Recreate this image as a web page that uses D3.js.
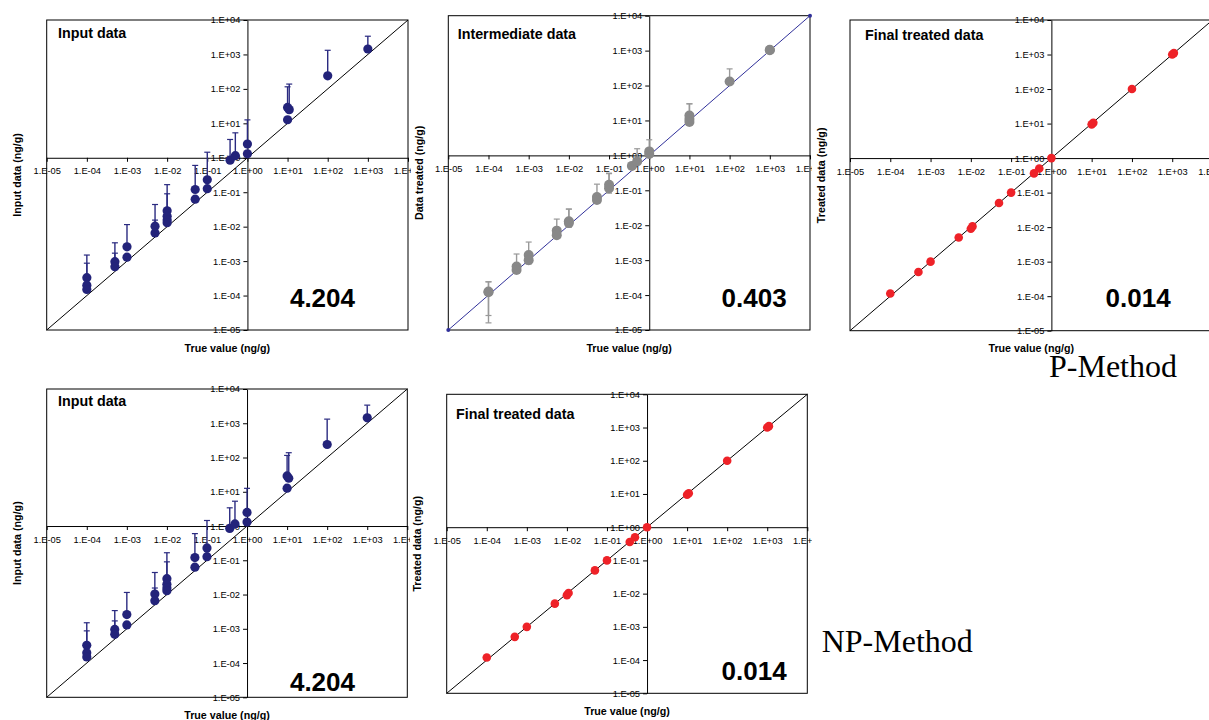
<!DOCTYPE html>
<html>
<head>
<meta charset="utf-8">
<script src="https://cdn.jsdelivr.net/npm/d3@7"></script>
<style>
  body { margin: 0; background: #fff; }
  svg { display: block; font-family: "Liberation Sans", Arial, sans-serif; }
  .axis text { font-size: 9.3px; fill: #000; }
  .axis path, .axis line { stroke: #000; stroke-width: 1; }
</style>
</head>
<body>
<svg id="chart" width="1209" height="720"></svg>
<script>

// tick values / labels shared by every panel
var tickVals = [1e-5, 1e-4, 1e-3, 1e-2, 1e-1, 1, 10, 100, 1000, 1e4];
var tickLabels = ["1.E-05", "1.E-04", "1.E-03", "1.E-02", "1.E-01", "1.E+00", "1.E+01", "1.E+02", "1.E+03", "1.E+04"];

// input data (navy, upper error bars)
var inputTrue     = [1e-4, 1e-4, 1e-4, 5e-4, 5e-4, 1e-3, 1e-3, 5e-3, 5e-3, 1e-2, 1e-2, 1e-2, 1e-2, 5e-2, 5e-2, 1e-1, 1e-1, 0.37, 0.5, 1, 1, 10, 11, 10, 100, 1000];
var inputMeasured = [3.3e-4, 2.0e-4, 1.5e-4, 9.6e-4, 6.9e-4, 2.6e-3, 1.3e-3, 1.03e-2, 6.6e-3, 2.9e-2, 2.0e-2, 1.55e-2, 1.3e-2, 0.12, 0.063, 0.23, 0.127, 0.85, 1.15, 2.5, 1.3, 29, 25, 12.7, 240, 1440];
var inputUpper    = [1.5e-3, 8.7e-4, null, 3.4e-3, 1.7e-3, 1.15e-2, null, 4.4e-2, 1.55e-2, 0.166, 0.09, null, null, 0.6, null, 1.45, null, 3.4, 5.3, 12.6, null, 115, 138, null, 1320, 3380];

// intermediate data (grey, two-sided error bars)
var interTrue  = [1e-4, 1e-4, 5e-4, 5e-4, 1e-3, 1e-3, 5e-3, 5e-3, 1e-2, 1e-2, 5e-2, 5e-2, 1e-1, 1e-1, 0.37, 0.5, 1, 1, 10, 10, 10, 100, 1000, 1000];
var interValue = [1.26e-4, 1.2e-4, 6.6e-4, 5.2e-4, 1.4e-3, 1.0e-3, 7e-3, 5.2e-3, 1.3e-2, 1.15e-2, 0.064, 0.053, 0.145, 0.115, 0.5, 0.67, 1.3, 1.1, 13.8, 11, 9.1, 131, 1030, 1060];
var interLower = [1.6e-5, 2.6e-5, 4.5e-4, 4.3e-4, 8e-4, 7.8e-4, 4.5e-3, 4.2e-3, 9e-3, 8.8e-3, 0.045, 0.045, 0.083, 0.09, null, 0.55, 0.9, null, 9, 8, 7.6, 110, null, null];
var interUpper = [2.4e-4, 2.4e-4, 1.5e-3, 7e-4, 3.3e-3, 1.4e-3, 1.5e-2, 7e-3, 2.9e-2, 2.9e-2, 0.15, 0.07, 0.31, 0.3, null, 1.55, 2.8, null, 30, 30, 11, 300, null, null];

// final treated data (red)
var finalTrue  = [1e-4, 5e-4, 1e-3, 5e-3, 1e-2, 1.1e-2, 5e-2, 1e-1, 0.37, 0.5, 1, 10, 11, 100, 1000, 1100];
var finalValue = [1.2e-4, 5e-4, 1e-3, 5e-3, 9e-3, 1.05e-2, 5e-2, 1e-1, 0.36, 0.5, 1, 9.5, 10.5, 100, 1000, 1100];

// scores shown in each panel
var scores = ["4.204", "0.403", "0.014", "4.204", "0.014"];

function zipSeries(xs, ys, lo, hi) {
  return xs.map(function(x, i) {
    return { x: x, y: ys[i], lo: lo ? lo[i] : null, hi: hi ? hi[i] : null };
  });
}

var inputData = zipSeries(inputTrue, inputMeasured, null, inputUpper);
var interData = zipSeries(interTrue, interValue, interLower, interUpper);
var finalData = zipSeries(finalTrue, finalValue, null, null);

var panels = [
  { l: 46.7, t: 20, r: 408, b: 330, clipL: 0, clipR: 411, title: "Input data", tx: 58, ty: 37.5,
    ylab: "Input data (ng/g)", score: scores[0], sx: 355, sy: 306.5,
    data: inputData, color: "#23237a", barColor: "#2a2a80", rad: 4.6, diag: "#000", diagDots: false },
  { l: 448.3, t: 15.7, r: 810, b: 330, clipL: 412, clipR: 812, title: "Intermediate data", tx: 457.7, ty: 38.5,
    ylab: "Data treated (ng/g)", score: scores[1], sx: 786.7, sy: 306.5,
    data: interData, color: "#888888", barColor: "#999999", rad: 5, diag: "#30309a", diagDots: true },
  { l: 850, t: 20, r: 1212.5, b: 330.7, clipL: 813, clipR: 1209, title: "Final treated data", tx: 865, ty: 40.3,
    ylab: "Treated data (ng/g)", score: scores[2], sx: 1170.7, sy: 306.5,
    data: finalData, color: "#ee2228", barColor: "#ee2228", rad: 4.3, diag: "#000", diagDots: false },
  { l: 46.7, t: 389, r: 407.3, b: 697.3, clipL: 0, clipR: 410, title: "Input data", tx: 58, ty: 406.3,
    ylab: "Input data (ng/g)", score: scores[3], sx: 355, sy: 690.5,
    data: inputData, color: "#23237a", barColor: "#2a2a80", rad: 4.6, diag: "#000", diagDots: false },
  { l: 446.7, t: 394.3, r: 807.3, b: 693.3, clipL: 411, clipR: 812, title: "Final treated data", tx: 456, ty: 418.7,
    ylab: "Treated data (ng/g)", score: scores[4], sx: 786.7, sy: 680,
    data: finalData, color: "#ee2228", barColor: "#ee2228", rad: 4.3, diag: "#000", diagDots: false }
];

var svg = d3.select("#chart");
var defs = svg.append("defs");

panels.forEach(function(p, k) {
  defs.append("clipPath")
      .attr("id", "clip" + k)
    .append("rect")
      .attr("x", p.clipL).attr("y", p.t - 20)
      .attr("width", p.clipR - p.clipL).attr("height", p.b - p.t + 60);

  var g = svg.append("g").attr("clip-path", "url(#clip" + k + ")");

  var x = d3.scaleLog().domain([1e-5, 1e4]).range([p.l, p.r]);
  var y = d3.scaleLog().domain([1e-5, 1e4]).range([p.b, p.t]);

  // frame
  g.append("rect")
      .attr("x", p.l).attr("y", p.t)
      .attr("width", p.r - p.l).attr("height", p.b - p.t)
      .attr("fill", "none").attr("stroke", "#000").attr("stroke-width", 1);

  // y = x reference line
  g.append("line")
      .attr("x1", x(1e-5)).attr("y1", y(1e-5))
      .attr("x2", x(1e4)).attr("y2", y(1e4))
      .attr("stroke", p.diag).attr("stroke-width", 1);
  if (p.diagDots) {
    g.selectAll(".dd")
      .data([1e-5, 1e4])
      .enter().append("circle")
        .attr("cx", function(d) { return x(d); })
        .attr("cy", function(d) { return y(d); })
        .attr("r", 2)
        .attr("fill", p.diag);
  }

  // axes cross at 1
  var xAxis = d3.axisBottom(x)
      .tickValues(tickVals)
      .tickFormat(function(d, i) { return tickLabels[i]; })
      .tickSizeInner(4).tickSizeOuter(0).tickPadding(6);
  var yAxis = d3.axisLeft(y)
      .tickValues(tickVals)
      .tickFormat(function(d, i) { return tickLabels[i]; })
      .tickSizeInner(4).tickSizeOuter(0).tickPadding(3);

  g.append("g")
      .attr("class", "axis")
      .attr("transform", "translate(0," + y(1) + ")")
      .call(xAxis);

  g.append("g")
      .attr("class", "axis")
      .attr("transform", "translate(" + x(1) + ",0)")
      .call(yAxis);

  // error bars
  var bars = [];
  p.data.forEach(function(d) {
    if (d.hi != null) bars.push({ x: d.x, a: d.y, b: d.hi });
    if (d.lo != null) bars.push({ x: d.x, a: d.y, b: d.lo });
  });

  g.selectAll(".bar")
    .data(bars)
    .enter().append("line")
      .attr("class", "bar")
      .attr("x1", function(d) { return x(d.x); })
      .attr("x2", function(d) { return x(d.x); })
      .attr("y1", function(d) { return y(d.a); })
      .attr("y2", function(d) { return y(d.b); })
      .attr("stroke", p.barColor).attr("stroke-width", 1.4);

  g.selectAll(".cap")
    .data(bars)
    .enter().append("line")
      .attr("class", "cap")
      .attr("x1", function(d) { return x(d.x) - 3; })
      .attr("x2", function(d) { return x(d.x) + 3; })
      .attr("y1", function(d) { return y(d.b); })
      .attr("y2", function(d) { return y(d.b); })
      .attr("stroke", p.barColor).attr("stroke-width", 1.2);

  // points
  g.selectAll(".pt")
    .data(p.data)
    .enter().append("circle")
      .attr("class", "pt")
      .attr("cx", function(d) { return x(d.x); })
      .attr("cy", function(d) { return y(d.y); })
      .attr("r", p.rad)
      .attr("fill", p.color);

  // titles and labels
  g.append("text")
      .attr("x", p.tx).attr("y", p.ty)
      .attr("font-size", 14.3).attr("font-weight", "bold")
      .text(p.title);

  g.append("text")
      .attr("x", p.sx).attr("y", p.sy)
      .attr("text-anchor", "end")
      .attr("font-size", 26).attr("font-weight", "bold")
      .text(p.score);

  g.append("text")
      .attr("x", (p.l + p.r) / 2).attr("y", p.b + 21.5)
      .attr("text-anchor", "middle")
      .attr("font-size", 10.7).attr("font-weight", "bold")
      .text("True value (ng/g)");

  g.append("text")
      .attr("transform", "translate(" + (p.l - 29) + "," + ((p.t + p.b) / 2) + ")rotate(-90)")
      .attr("text-anchor", "middle")
      .attr("dy", ".35em")
      .attr("font-size", 10.7).attr("font-weight", "bold")
      .text(p.ylab);
});

// method labels
svg.append("text")
    .attr("x", 1049).attr("y", 377)
    .style("font-family", "'Liberation Serif', 'Times New Roman', serif")
    .attr("font-size", 32)
    .text("P-Method");

svg.append("text")
    .attr("x", 821.7).attr("y", 651.7)
    .style("font-family", "'Liberation Serif', 'Times New Roman', serif")
    .attr("font-size", 32)
    .text("NP-Method");

</script>
</body>
</html>
